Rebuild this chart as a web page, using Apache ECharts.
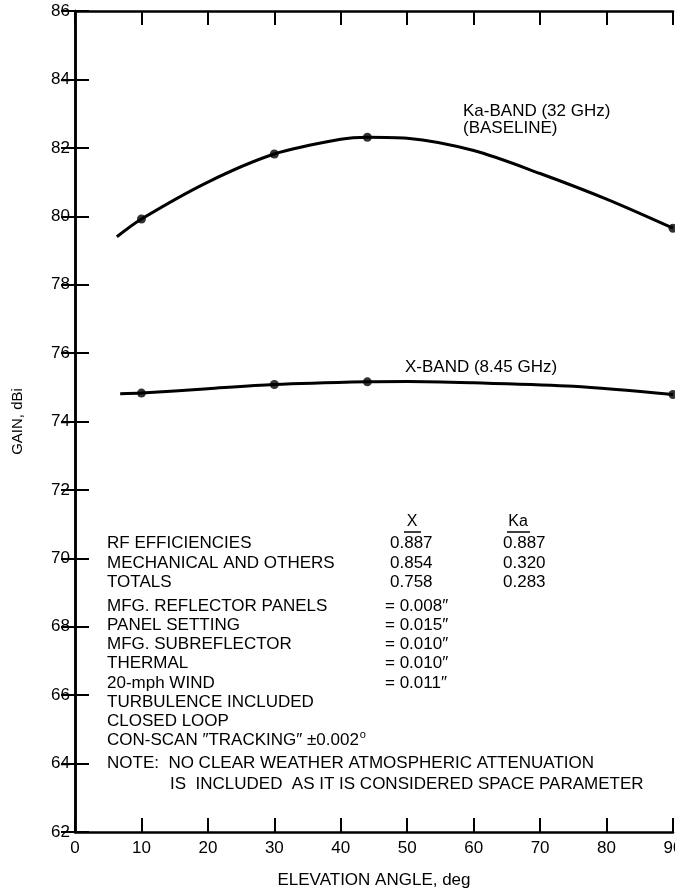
<!DOCTYPE html>
<html>
<head>
<meta charset="utf-8">
<script src="https://cdn.jsdelivr.net/npm/echarts@6/dist/echarts.min.js"></script>
<style>
html,body{margin:0;padding:0;background:#fff;}
#c{width:675px;height:892px;}
</style>
</head>
<body>
<div id="c"></div>
<script>
// ---- data ----
const kaCurve = [[6.3,79.4],[10,79.92],[20,81.0],[30,81.82],[40,82.25],[44,82.31],[50,82.28],[60,81.92],[70,81.25],[80,80.5],[90,79.65]];
const kaPoints = [[10,79.92],[30,81.82],[44,82.31],[90,79.65]];
const xCurve = [[6.8,74.81],[10,74.83],[20,74.96],[30,75.08],[44,75.16],[50,75.17],[60,75.13],[75,75.03],[90,74.79]];
const xPoints = [[10,74.83],[30,75.08],[44,75.16],[90,74.79]];
const kaLabel = ['Ka-BAND (32 GHz)', '(BASELINE)'];
const xLabel = 'X-BAND (8.45 GHz)';
const tableHeaders = ['X', 'Ka'];
const effRows = ['RF EFFICIENCIES', 'MECHANICAL AND OTHERS', 'TOTALS'];
const effX = ['0.887', '0.854', '0.758'];
const effKa = ['0.887', '0.320', '0.283'];
const tolRows = ['MFG. REFLECTOR PANELS', 'PANEL SETTING', 'MFG. SUBREFLECTOR', 'THERMAL', '20-mph WIND'];
const tolVals = ['= 0.008\u2033', '= 0.015\u2033', '= 0.010\u2033', '= 0.010\u2033', '= 0.011\u2033'];
const extraRows = ['TURBULENCE INCLUDED', 'CLOSED LOOP'];
const conScan = 'CON-SCAN \u2033TRACKING\u2033 \u00b10.002';
const noteLines = ['NOTE:  NO CLEAR WEATHER ATMOSPHERIC ATTENUATION', 'IS  INCLUDED  AS IT IS CONSIDERED SPACE PARAMETER'];
const xName = 'ELEVATION ANGLE, deg';
const yName = 'GAIN, dBi';

const FONT = '"Liberation Sans", Arial, Helvetica, sans-serif';
const FS = 17;
const chart = echarts.init(document.getElementById('c'), null, {renderer:'canvas'});

function txt(t, x, y, align, size) {
  return {type:'text', style:{text:t, x:x, y:y, fill:'#000', font: (size||FS) + 'px ' + FONT,
    align: align||'left', verticalAlign:'middle', textAlign: align||'left', textVerticalAlign:'middle'}};
}
const g = [];
// series labels
g.push(txt(kaLabel[0], 463, 111, 'left', 17));
g.push(txt(kaLabel[1], 463, 128, 'left', 17));
g.push(txt(xLabel, 405, 367, 'left', 17));
// table headers
g.push(txt(tableHeaders[0], 412, 522, 'center', 16));
g.push(txt(tableHeaders[1], 518, 522, 'center', 16));
g.push({type:'line', shape:{x1:404, y1:532, x2:421, y2:532}, style:{stroke:'#000', lineWidth:1.5}});
g.push({type:'line', shape:{x1:507, y1:532, x2:530, y2:532}, style:{stroke:'#000', lineWidth:1.5}});
const effY = [543, 563, 582];
effRows.forEach((r,i)=>{
  g.push(txt(r, 107, effY[i]));
  g.push(txt(effX[i], 390, effY[i]));
  g.push(txt(effKa[i], 503, effY[i]));
});
const tolY = [606, 625, 644, 663, 683];
tolRows.forEach((r,i)=>{
  g.push(txt(r, 107, tolY[i]));
  g.push(txt(tolVals[i], 385, tolY[i]));
});
const exY = [702, 721];
extraRows.forEach((r,i)=>g.push(txt(r, 107, exY[i])));
g.push({type:'text', style:{text:'{a|' + conScan + '}{s|o}', x:107, y:740, verticalAlign:'middle', textVerticalAlign:'middle',
  rich:{a:{font:FS + 'px ' + FONT, fill:'#000'}, s:{font:'11px ' + FONT, fill:'#000', padding:[0,0,11,1]}}}});
g.push(txt(noteLines[0], 107, 763));
g.push(txt(noteLines[1], 170, 784));

const axisLine = {show:true, lineStyle:{color:'#000', width:2.5}};
const tickIn = {show:true, inside:true, length:14, lineStyle:{color:'#000', width:2}};

chart.setOption({
  animation:false,
  backgroundColor:'#fff',
  grid:{left:75, right:2, top:11, bottom:60, show:false, containLabel:false, outerBoundsMode:'none'},
  xAxis:[{
    type:'value', min:0, max:90, interval:10, position:'bottom',
    axisLine:axisLine, axisTick:tickIn, splitLine:{show:false},
    axisLabel:{color:'#000', fontSize:17, fontFamily:FONT, margin:8},
    name:xName, nameLocation:'middle', nameGap:40,
    nameTextStyle:{color:'#000', fontSize:17, fontFamily:FONT}
  },{
    type:'value', min:0, max:90, interval:10, position:'top',
    axisLine:axisLine, axisTick:tickIn, splitLine:{show:false}, axisLabel:{show:false}
  }],
  yAxis:[{
    type:'value', min:62, max:86, interval:2, position:'left',
    axisLine:axisLine, axisTick:tickIn, splitLine:{show:false},
    axisLabel:{color:'#000', fontSize:17, fontFamily:FONT, margin:5},
    name:yName, nameLocation:'middle', nameGap:50, nameRotate:90,
    nameTextStyle:{color:'#000', fontSize:15, fontFamily:FONT}
  },{
    type:'value', min:62, max:86, interval:2, position:'right',
    axisLine:axisLine, axisTick:tickIn, splitLine:{show:false}, axisLabel:{show:false}
  }],
  series:[
    {type:'line', data:kaCurve, smooth:0.3, showSymbol:false, symbol:'none', lineStyle:{color:'#000', width:3}, z:3},
    {type:'line', data:xCurve, smooth:0.3, showSymbol:false, symbol:'none', lineStyle:{color:'#000', width:3}, z:3},
    {type:'scatter', data:kaPoints, symbol:'circle', symbolSize:9, itemStyle:{color:'#000'}, z:4},
    {type:'scatter', data:xPoints, symbol:'circle', symbolSize:9, itemStyle:{color:'#000'}, z:4}
  ],
  graphic:g
});
</script>
</body>
</html>
